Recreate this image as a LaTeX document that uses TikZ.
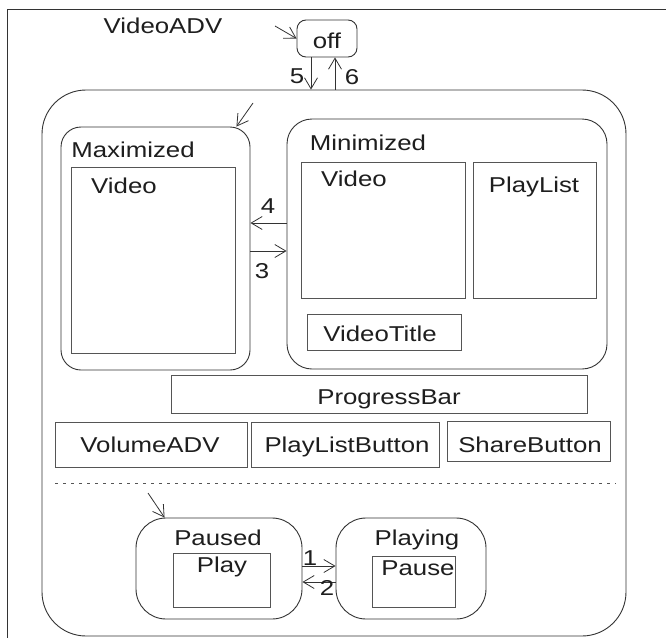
\documentclass[tikz,border=0pt]{standalone}
\usepackage{fontspec}
\setmainfont{Liberation Sans}[FakeStretch=1.2]
\usetikzlibrary{arrows.meta,fit,calc}
\definecolor{ln}{HTML}{333333}
\definecolor{bx}{HTML}{555555}
\definecolor{tx}{HTML}{1E1E1E}
\tikzset{
  lbl/.style={font=\fontsize{21.5}{24}\selectfont, text=tx, inner sep=0pt, anchor=base},
  st/.style={draw=ln, line width=0.9pt, rounded corners=#1, inner sep=0pt},
  bxs/.style={draw=bx, line width=0.9pt, inner sep=0pt},
  arr/.style={draw=ln, line width=0.8pt, -{Straight Barb[length=11pt,width=13pt]}},
}
\begin{document}
\begin{tikzpicture}[x=1pt,y=-1pt]
\useasboundingbox (0,0) rectangle (666,637);
\fill[white] (0,0) rectangle (666,637);
% outer frame
\coordinate (fbl) at (7,660);
\coordinate (ftl) at (7,9);
\coordinate (ftr) at (690,9);
\draw[ln, line width=0.9pt] (fbl) -- (ftl) -- (ftr);
\node[lbl] (title) at (163,33) {VideoADV};

% off state
\node[st=9pt, fit={(297,20) (357,57)}] (off) {};
\node[lbl] (offt) at (327,48) {off};

% main composite state
\node[st=44pt, fit={(42,90) (626,636)}] (main) {};

% Maximized
\node[st=20pt, fit={(61,127) (250,370)}] (max) {};
\node[lbl] (maxt) at (133,157) {Maximized};
\node[bxs, fit={(71,167) (235,353)}] (maxvid) {};
\node[lbl] (maxvidt) at (124,193) {Video};

% Minimized
\node[st=25pt, fit={(287,119) (607,369)}] (min) {};
\node[lbl] (mint) at (368,150) {Minimized};
\node[bxs, fit={(301,162) (465,298)}] (minvid) {};
\node[lbl] (minvidt) at (354,186) {Video};
\node[bxs, fit={(473,162) (596,298)}] (plist) {};
\node[lbl] (plistt) at (534,192) {PlayList};
\node[bxs, fit={(307,314) (461,350)}] (vtitle) {};
\node[lbl] (vtitlet) at (380,341) {VideoTitle};

% bars and buttons
\node[bxs, fit={(171,375) (587,413)}] (prog) {};
\node[lbl] (progt) at (389,404) {ProgressBar};
\node[bxs, fit={(55,422) (247,467)}] (vol) {};
\node[lbl] (volt) at (150,452) {VolumeADV};
\node[bxs, fit={(251,422) (439,467)}] (plb) {};
\node[lbl] (plbt) at (347,452) {PlayListButton};
\node[bxs, fit={(447,421) (610,461)}] (share) {};
\node[lbl] (sharet) at (530,452) {ShareButton};

% region separator
\coordinate (dl) at (55,483);
\coordinate (dr) at (616,483);
\draw[bx, line width=0.9pt, dash pattern=on 2.5pt off 5.5pt] (dl) -- (dr);

% Paused / Playing
\node[st=30pt, fit={(136,518) (302,619)}] (paused) {};
\node[lbl] (pausedt) at (218,545) {Paused};
\node[bxs, fit={(173,553) (270,607)}] (playb) {};
\node[lbl] (playbt) at (222,572) {Play};
\node[st=30pt, fit={(336,518) (486,619)}] (playing) {};
\node[lbl] (playingt) at (417,545) {Playing};
\node[bxs, fit={(372,556) (455,607)}] (pauseb) {};
\node[lbl] (pausebt) at (418,575) {Pause};

% initial arrows
\coordinate (i0) at (275,26);
\draw[arr] (i0) -- (off.west);
\coordinate (i1) at (253,103);
\draw[arr] (i1) -- ($(max.north east)+(-14,0)$);
\coordinate (i2) at (148,493);
\draw[arr] (i2) -- ($(paused.north west)+(29,0)$);

% transitions 5 / 6
\coordinate (x5) at (311,0);
\coordinate (x6) at (335,0);
\draw[arr] (off.south -| x5) -- (main.north -| x5);
\draw[arr] (main.north -| x6) -- (off.south -| x6);
\node[lbl] (l5) at (297,83) {5};
\node[lbl] (l6) at (352,84) {6};

% transitions 3 / 4
\coordinate (y4) at (0,223);
\coordinate (y3) at (0,251);
\draw[arr] (min.west |- y4) -- (max.east |- y4);
\draw[arr] (max.east |- y3) -- (min.west |- y3);
\node[lbl] (l4) at (268,213) {4};
\node[lbl] (l3) at (262,278) {3};

% transitions 1 / 2
\coordinate (y1) at (0,566);
\coordinate (y2) at (0,582);
\draw[arr] (paused.east |- y1) -- (playing.west |- y1);
\draw[arr] (playing.west |- y2) -- (paused.east |- y2);
\node[lbl] (l1) at (310,565) {1};
\node[lbl] (l2) at (327,595) {2};
\end{tikzpicture}
\end{document}
